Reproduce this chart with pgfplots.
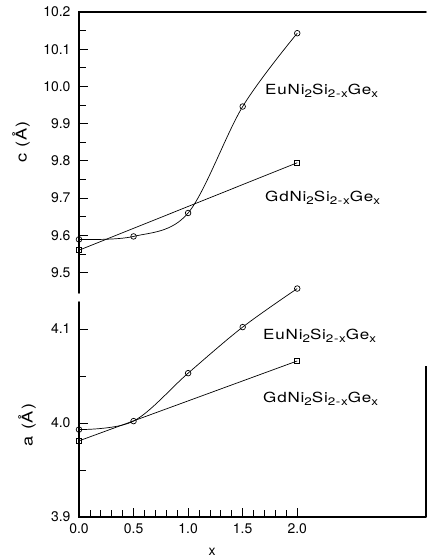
\documentclass[border=0pt]{standalone}
\usepackage{pgfplots}
\pgfplotsset{compat=1.18}
\usepackage{fontspec}
\setmainfont{TeX Gyre Heros}
\newfontfamily\labfont{TeX Gyre Heros}[FakeStretch=1.22, LetterSpace=6]
\newcommand{\sub}[1]{\raisebox{-0.38ex}{\fontsize{11}{11}\selectfont #1}}
\begin{document}
\begin{tikzpicture}
\useasboundingbox (0bp,0bp) rectangle (427bp,560bp);
\pgfplotsset{every axis/.append style={
  scale only axis, xmin=0, xmax=3.18, width=347bp,
  clip=false,
  axis line style={draw=none},
  tick align=inside,
  ytick pos=left,
  major tick length=9bp, minor tick length=7bp,
  tick style={line width=0.8bp, black},
  ticklabel style={font=\fontsize{14}{15}\selectfont},
  /pgf/number format/assume math mode=true,
  /pgf/number format/fixed,
  /pgf/number format/fixed zerofill,
  /pgf/number format/precision=1,
}}
% top panel: c
\begin{axis}[at={(79bp,267bp)}, anchor=south west, height=281bp,
  ymin=9.445, ymax=10.2,
  xtick=\empty,
  ytick={9.5,9.6,9.7,9.8,9.9,10.0,10.1,10.2},
  minor ytick={9.55,9.65,9.75,9.85,9.95,10.05,10.15},
  yticklabel style={xshift=-5bp}]
\draw[line width=1.6bp, line cap=round] (rel axis cs:0,0) -- (rel axis cs:0,1) -- (rel axis cs:1,1);
\addplot[black, line width=0.7bp, smooth, tension=0.55, mark=o, mark size=2.8bp, mark options={solid, line width=0.7bp}]
  coordinates {(0,9.589) (0.5,9.597) (1.0,9.66) (1.5,9.946) (2.0,10.143)};
\addplot[black, line width=0.7bp, mark=square, mark size=2.6bp, mark options={solid, line width=0.7bp}]
  coordinates {(0,9.56) (2.0,9.795)};
\end{axis}
% bottom panel: a
\begin{axis}[at={(79bp,43bp)}, anchor=south west, height=215bp,
  ymin=3.9, ymax=4.1287,
  xtick pos=left,
  xtick={0,0.5,1.0,1.5,2.0},
  minor xtick={0.1,0.2,0.3,0.4,0.6,0.7,0.8,0.9,1.1,1.2,1.3,1.4,1.6,1.7,1.8,1.9},
  ytick={3.9,4.0,4.1},
  minor ytick={3.95,4.05},
  yticklabel style={xshift=-5bp},
  xticklabel style={yshift=-3bp}]
\draw[line width=1.6bp, line cap=round] (rel axis cs:0,1) -- (rel axis cs:0,0) -- (rel axis cs:1,0);
\draw[line width=1.2bp] (rel axis cs:1,0) -- (rel axis cs:1,0.7);
\addplot[black, line width=0.7bp, smooth, tension=0.55, mark=o, mark size=2.8bp, mark options={solid, line width=0.7bp}]
  coordinates {(0,3.993) (0.5,4.002) (1.0,4.053) (1.5,4.102) (2.0,4.143)};
\addplot[black, line width=0.7bp, mark=square, mark size=2.6bp, mark options={solid, line width=0.7bp}]
  coordinates {(0,3.981) (2.0,4.066)};
\end{axis}
% series labels
\node[anchor=base west, font=\labfont\fontsize{14}{14}\selectfont, inner sep=0] at (265bp,465bp) {EuNi\sub{2}Si\sub{2-x}Ge\sub{x}};
\node[anchor=base west, font=\labfont\fontsize{14}{14}\selectfont, inner sep=0] at (265bp,358bp) {GdNi\sub{2}Si\sub{2-x}Ge\sub{x}};
\node[anchor=base west, font=\labfont\fontsize{14}{14}\selectfont, inner sep=0] at (263bp,220bp) {EuNi\sub{2}Si\sub{2-x}Ge\sub{x}};
\node[anchor=base west, font=\labfont\fontsize{14}{14}\selectfont, inner sep=0] at (263bp,157bp) {GdNi\sub{2}Si\sub{2-x}Ge\sub{x}};
% axis labels
\node[rotate=90, font=\labfont\fontsize{15}{15}\selectfont] at (21bp,418bp) {c (Å)};
\node[rotate=90, font=\labfont\fontsize{15}{15}\selectfont] at (27bp,135bp) {a (Å)};
\node[font=\fontsize{14}{14}\selectfont] at (212bp,8bp) {x};
\end{tikzpicture}
\end{document}
